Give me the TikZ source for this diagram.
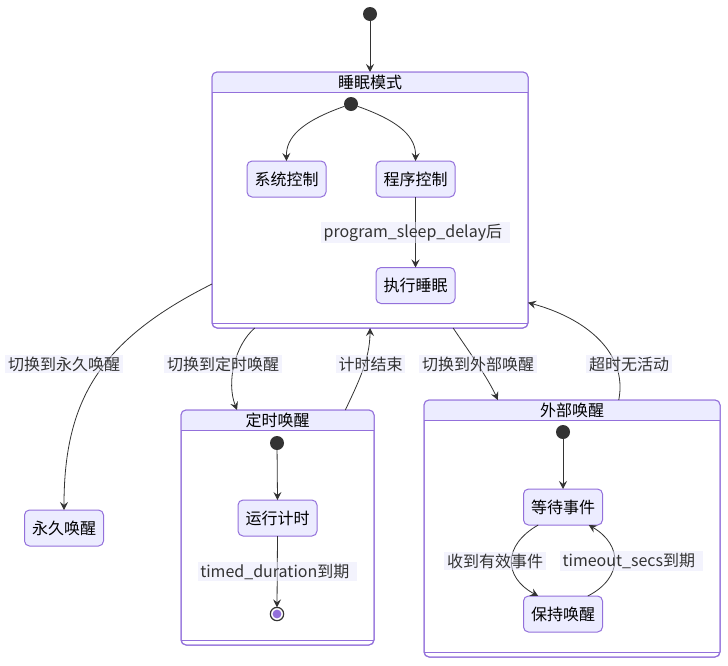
\documentclass[tikz,border=0pt]{standalone}
\usepackage{fontspec}
\setmainfont{Noto Sans CJK SC}
\usetikzlibrary{arrows.meta}
\definecolor{pfill}{HTML}{ECECFF}
\definecolor{pline}{HTML}{9370DB}
\definecolor{ink}{HTML}{333333}
\definecolor{lblbg}{HTML}{E8E8FC}
\tikzset{
  txt/.style={font=\fontsize{12}{14}\selectfont, text=black},
  sbox/.style={txt, draw=pline, fill=pfill, rounded corners=3.75pt, minimum width=59.25pt, minimum height=27pt, inner sep=0pt, outer sep=0pt, line width=0.75pt},
  comp/.style={draw=pline, fill=white, rounded corners=3.75pt, inner sep=0pt, outer sep=0pt, line width=0.75pt},
  compline/.style={draw=pline, line width=0.75pt},
  startdot/.style={circle, fill=ink, minimum size=10.5pt, inner sep=0pt, outer sep=0pt},
  enddot/.style={circle, draw=ink, fill=white, line width=0.9pt, minimum size=10pt, inner sep=0pt, outer sep=0pt},
  arr/.style={draw=ink, line width=0.6pt, -{Stealth[length=6pt, width=6pt, inset=2.2pt]}},
  elabel/.style={txt, text=ink, fill=lblbg, fill opacity=0.5, text opacity=1, inner xsep=2pt, inner ysep=1.5pt},
}
\newcommand\compo[6]{%
  \node[comp, minimum width={#4*0.75pt}, minimum height={#5*0.75pt}] (#1) at (#2,#3) {};
  \begin{scope}
    \clip[rounded corners=3.75pt] (#1.south west) rectangle (#1.north east);
    \fill[pfill] (#1.north west) rectangle ([yshift=-15pt]#1.north east);
  \end{scope}
  \draw[compline] ([yshift=-15pt]#1.north west) -- ([yshift=-15pt]#1.north east);
  \draw[compline] ([yshift=3.75pt]#1.south west) -- ([yshift=3.75pt]#1.south east);
  \draw[compline, rounded corners=3.75pt] (#1.south west) rectangle (#1.north east);
  \node[txt, inner sep=0pt] (#1-title) at ([yshift=-7.5pt]#1.north) {#6};
}
\begin{document}
\begin{tikzpicture}[x=0.75pt, y=-0.75pt]
\useasboundingbox (0,0) rectangle (728,665);

% composite states
\compo{sleep}{370}{200}{316}{256}{睡眠模式}
\compo{timed}{277.5}{527.5}{193}{235}{定时唤醒}
\compo{ext}{572}{528.5}{296}{257}{外部唤醒}

% start points
\node[startdot] (s0) at (370,14) {};
\node[startdot] (s1) at (351,104) {};
\node[startdot] (s3) at (277,443) {};
\node[startdot] (s4) at (563,432) {};

% simple states
\node[sbox] (sys) at (286.5,179) {系统控制};
\node[sbox] (prog) at (415.5,179) {程序控制};
\node[sbox] (exec) at (415.5,285.5) {执行睡眠};
\node[sbox] (perm) at (64,528) {永久唤醒};
\node[sbox] (run) at (277.5,518) {运行计时};
\node[sbox] (wait) at (563,507) {等待事件};
\node[sbox] (keep) at (563,614) {保持唤醒};

% end state
\node[enddot] (fin) at (277,614) {};
\fill[pline] (fin.center) circle (3.3pt);

% transitions
\draw[arr] (s0) -- (sleep.north);
\draw[arr] (s1) .. controls (300,122) and (286,138) .. (sys.north);
\draw[arr] (s1) .. controls (402,122) and (416,138) .. (prog.north);
\draw[arr] (prog.south) -- (exec.north);
\node[elabel] (l1) at (415.5,232.5) {program\_sleep\_delay后\,\,};

\draw[arr] (sleep.208.3) .. controls (100,340) and (64,400) .. (perm.north);
\node[elabel] (l2) at (64,364) {切换到永久唤醒};

\draw[arr] (sleep.228.1) .. controls (235,345) and (226,382) .. (timed.109);
\node[elabel] (l3) at (223,364) {切换到定时唤醒};

\draw[arr] (timed.60.9) .. controls (357,385) and (370,360) .. (sleep.south);
\node[elabel] (l4) at (370.5,364) {计时结束};

\draw[arr] (sleep.303.6) .. controls (468,350) and (488,378) .. (ext.120.3);
\node[elabel] (l5) at (478,364) {切换到外部唤醒};

\draw[arr] (ext.70.7) .. controls (628,352) and (585,318) .. (sleep.327.7);
\node[elabel] (l6) at (629,364) {超时无活动};

\draw[arr] (s3) -- (run.north);
\draw[arr] (run.south) -- (fin.north);
\node[elabel] (l7) at (277.5,571.5) {timed\_duration到期\,\,};

\draw[arr] (s4) -- (wait.north);
\draw[arr] (wait.216.9) .. controls (503,545) and (503,577) .. (keep.144.25);
\node[elabel] (l8) at (495,561) {收到有效事件};
\draw[arr] (keep.36.87) .. controls (623,578) and (623,545) .. (wait.-35.75);
\node[elabel] (l9) at (631.5,561) {timeout\_secs到期\,\,};
\end{tikzpicture}
\end{document}
